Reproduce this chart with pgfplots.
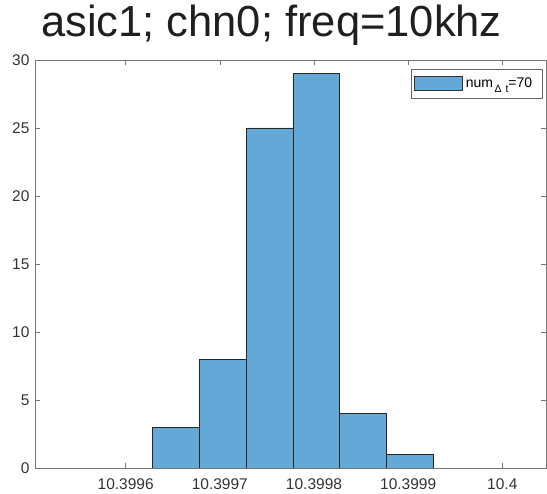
\documentclass[border=0pt]{standalone}
\usepackage{fontspec}
\setmainfont{Liberation Sans}
\usepackage{pgfplots}
\pgfplotsset{compat=1.18}
\definecolor{barblue}{RGB}{100,168,215}
\definecolor{axgray}{RGB}{120,120,120}
\begin{document}
\begin{tikzpicture}
\begin{axis}[
  scale only axis, width=511pt, height=408pt,
  xmin=-0.963, xmax=4.464, ymin=0, ymax=30,
  xtick={0,1,2,3,4},
  xticklabels={10.3996,10.3997,10.3998,10.3999,10.4},
  ytick={0,5,...,30},
  tick align=inside, major tick length=5pt,
  axis line style={axgray, line width=0.7pt},
  tick style={axgray, line width=0.5pt},
  ticklabel style={font=\fontsize{15.5}{18}\selectfont, text=black!80},
  xticklabel style={yshift=-7pt},
  yticklabel style={xshift=-2pt},
  /pgf/number format/assume math mode=true,
  title={asic1; chn0; freq=10khz},
  title style={font=\fontsize{43.5}{50}\selectfont, text=black!88, at={(0.4628,1)}, anchor=base, yshift=17pt, inner sep=0pt},
  legend style={at={(0.9941,0.978)}, anchor=north east, draw=black!60, line width=0.5pt,
    font=\fontsize{14}{15}\selectfont, inner xsep=2pt, inner ysep=7pt, row sep=0pt,
    nodes={inner sep=1.5pt}},
  legend cell align=left,
  legend image code/.code={\draw[fill=barblue, draw=black!80, line width=0.6pt] (0pt,-7pt) rectangle (48pt,7pt);},
]
\addplot[ybar interval, fill=barblue, draw=black!85, line width=0.6pt]
  coordinates {(0.287,3) (0.783,8) (1.280,25) (1.777,29) (2.274,4) (2.770,1) (3.267,1)};
\addlegendentry{\hspace{2pt}num\hspace{1.5pt}\raisebox{-5pt}{\fontsize{10.5}{12}\selectfont Δ\hspace{4pt}t}=70\hspace*{7pt}}
\end{axis}
\pgfresetboundingbox
\path[use as bounding box] (-35pt,-26pt) rectangle (512pt,468pt);
\end{tikzpicture}
\end{document}
